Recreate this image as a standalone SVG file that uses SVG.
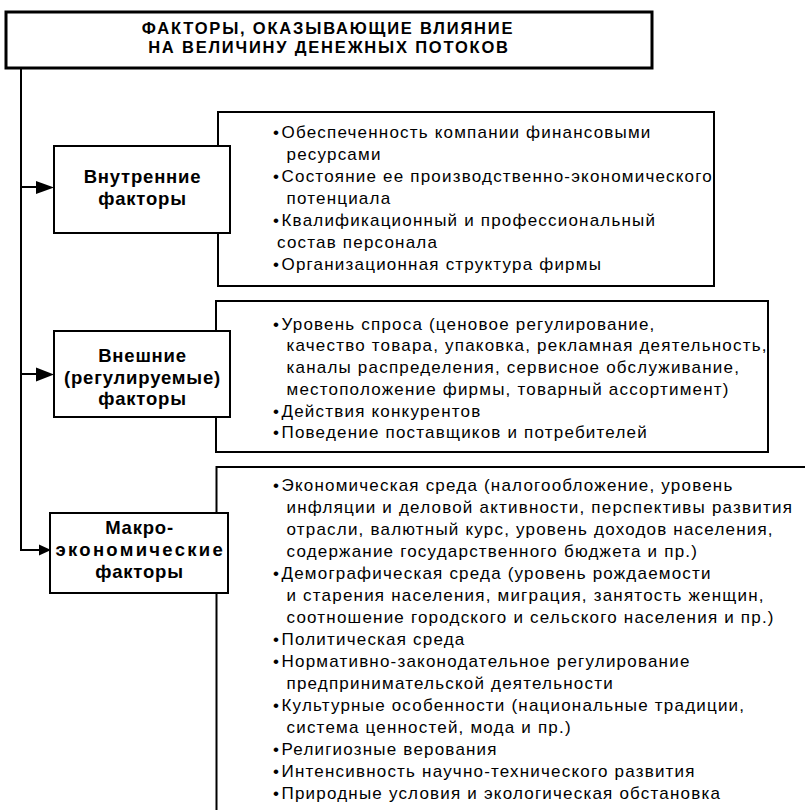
<svg xmlns="http://www.w3.org/2000/svg" width="805" height="810" viewBox="0 0 805 810">
<style>
.frame{fill:#fff;stroke:#000;stroke-width:2}
.tbox{fill:#fff;stroke:#000;stroke-width:3}
.line{fill:none;stroke:#000;stroke-width:2}
.title{font-family:"Liberation Sans",Arial,sans-serif;font-weight:bold;font-size:16.5px;letter-spacing:1.8px;text-anchor:middle;fill:#000}
.node{font-family:"Liberation Sans",Arial,sans-serif;font-weight:bold;font-size:18.5px;letter-spacing:0.8px;text-anchor:middle;fill:#000}
.body{font-family:"Liberation Sans",Arial,sans-serif;font-size:17px;letter-spacing:1.2px;fill:#000}
</style>
<rect width="805" height="810" fill="#fff"/>

<g id="title">
<rect class="tbox" x="6" y="12" width="646" height="56"/>
<text class="title"><tspan x="328" y="34">ФАКТОРЫ, ОКАЗЫВАЮЩИЕ ВЛИЯНИЕ</tspan><tspan x="329" y="53">НА ВЕЛИЧИНУ ДЕНЕЖНЫХ ПОТОКОВ</tspan></text>
</g>

<g id="connectors">
<path class="line" d="M21,68 V550 H40"/>
<path class="line" d="M21,187 H38"/>
<path class="line" d="M21,374 H38"/>
<path d="M36,181 L54,187.5 L36,194 Z" fill="#000"/>
<path d="M36,367.5 L54,374.5 L36,381.5 Z" fill="#000"/>
<path d="M39,544.5 L51,550 L39,555.5 Z" fill="#000"/>
</g>

<g id="details-internal">
<rect class="frame" x="218" y="112" width="496" height="174"/>
<text class="body">
<tspan x="273" y="137.5">•</tspan><tspan x="281.5">Обеспеченность компании финансовыми</tspan>
<tspan x="286.5" y="159.5">ресурсами</tspan>
<tspan x="273" y="181.5">•</tspan><tspan x="281.5">Состояние ее производственно-экономического</tspan>
<tspan x="286.5" y="203.5">потенциала</tspan>
<tspan x="273" y="225.5">•</tspan><tspan x="281.5">Квалификационный и профессиональный</tspan>
<tspan x="277" y="247.5">состав персонала</tspan>
<tspan x="273" y="269.5">•</tspan><tspan x="281.5">Организационная структура фирмы</tspan>
</text>
</g>

<g id="node-internal">
<rect class="frame" x="54" y="146" width="176" height="87"/>
<text class="node"><tspan x="142.5" y="183">Внутренние</tspan><tspan x="142.5" y="205">факторы</tspan></text>
</g>

<g id="details-external">
<rect class="frame" x="216" y="301" width="552" height="151"/>
<text class="body">
<tspan x="273" y="329.5">•</tspan><tspan x="281.5">Уровень спроса (ценовое регулирование,</tspan>
<tspan x="286.5" y="351.2">качество товара, упаковка, рекламная деятельность,</tspan>
<tspan x="286.5" y="372.9">каналы распределения, сервисное обслуживание,</tspan>
<tspan x="286.5" y="394.6">местоположение фирмы, товарный ассортимент)</tspan>
<tspan x="273" y="416.5">•</tspan><tspan x="281.5">Действия конкурентов</tspan>
<tspan x="273" y="438">•</tspan><tspan x="281.5">Поведение поставщиков и потребителей</tspan>
</text>
</g>

<g id="node-external">
<rect class="frame" x="54" y="331" width="176" height="86"/>
<text class="node"><tspan x="142.5" y="362">Внешние</tspan><tspan x="142.5" y="383.5">(регулируемые)</tspan><tspan x="142.5" y="405">факторы</tspan></text>
</g>

<g id="details-macro">
<path class="line" d="M805,467 H216.5 V810"/>
<text class="body">
<tspan x="273" y="490.5">•</tspan><tspan x="281.5">Экономическая среда (налогообложение, уровень</tspan>
<tspan x="286.5" y="512.5">инфляции и деловой активности, перспективы развития</tspan>
<tspan x="286.5" y="534.5">отрасли, валютный курс, уровень доходов населения,</tspan>
<tspan x="286.5" y="556.5">содержание государственного бюджета и пр.)</tspan>
<tspan x="273" y="578.5">•</tspan><tspan x="281.5">Демографическая среда (уровень рождаемости</tspan>
<tspan x="286.5" y="600.5">и старения населения, миграция, занятость женщин,</tspan>
<tspan x="286.5" y="622.5">соотношение городского и сельского населения и пр.)</tspan>
<tspan x="273" y="644.5">•</tspan><tspan x="281.5">Политическая среда</tspan>
<tspan x="273" y="666.5">•</tspan><tspan x="281.5">Нормативно-законодательное регулирование</tspan>
<tspan x="286.5" y="688.5">предпринимательской деятельности</tspan>
<tspan x="273" y="710.5">•</tspan><tspan x="281.5">Культурные особенности (национальные традиции,</tspan>
<tspan x="286.5" y="732.5">система ценностей, мода и пр.)</tspan>
<tspan x="273" y="754.5">•</tspan><tspan x="281.5">Религиозные верования</tspan>
<tspan x="273" y="776.5">•</tspan><tspan x="281.5">Интенсивность научно-технического развития</tspan>
<tspan x="273" y="798.5">•</tspan><tspan x="281.5">Природные условия и экологическая обстановка</tspan>
</text>
</g>

<g id="node-macro">
<rect class="frame" x="50" y="513" width="178" height="80"/>
<text class="node"><tspan x="139.5" y="534">Макро-</tspan><tspan x="139.5" y="556" textLength="168" lengthAdjust="spacing">экономические</tspan><tspan x="139.5" y="578">факторы</tspan></text>
</g>
</svg>
